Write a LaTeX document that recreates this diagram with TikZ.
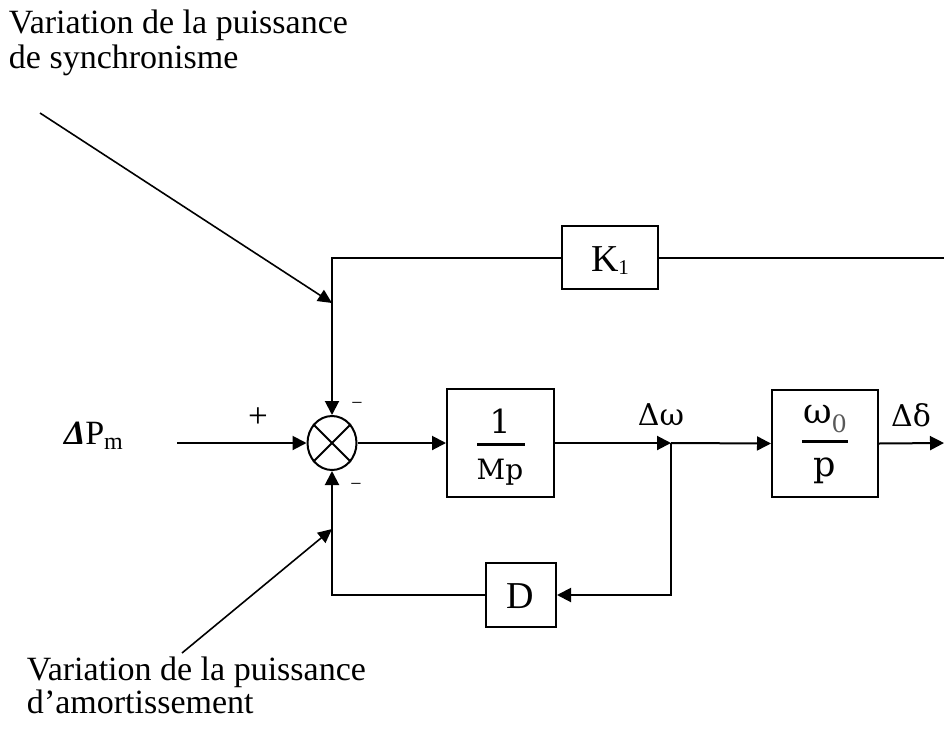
\documentclass[tikz,border=0pt]{standalone}
\usepackage{fontspec}
\setmainfont{Liberation Serif}
\newfontfamily\mathfnt{DejaVu Serif}
\usetikzlibrary{arrows.meta,shapes.geometric}
\begin{document}
\begin{tikzpicture}[x=1pt,y=-1pt,line width=2pt,
  arr/.style={-{Triangle[length=14pt,width=14pt]}},
  thinarr/.style={line width=1.6pt,-{Triangle[length=14pt,width=13pt]}},
  blk/.style={draw,rectangle,inner sep=0pt},
  ann/.style={font=\fontsize{34}{36}\selectfont,anchor=base west,inner sep=0pt},
  lab/.style={font=\fontsize{38}{40}\selectfont,inner sep=0pt,anchor=base},
  mth/.style={font=\mathfnt\fontsize{30}{30}\selectfont,inner sep=0pt,anchor=base},
  sgn/.style={inner sep=0pt}
]
\useasboundingbox (0,0) rectangle (944,728);

% annotations
\node[ann] (t1) at (8,33) {Variation de la puissance};
\node[ann] (t2) at (8,68) {de synchronisme};
\node[ann] (b1) at (26,680) {Variation de la puissance};
\node[ann] (b2) at (26,713) {d’amortissement};

% input label
\node[anchor=base west,inner sep=0pt,font=\fontsize{34}{36}\selectfont] (dpm) at (63,444)
  {{\bfseries\itshape Δ}P\raisebox{-5pt}{\fontsize{24}{24}\selectfont m}};

% summing junction
\node[ellipse,draw,minimum width=49pt,minimum height=54pt,inner sep=0pt] (s) at (332,443) {};
\draw (s.135) -- (s.-45);
\draw (s.45) -- (s.-135);
\node[sgn,font=\fontsize{35}{35}\selectfont] (plus) at (258,418) {+};
\node[sgn,font=\fontsize{20}{20}\selectfont] (m1) at (357,406) {−};
\node[sgn,font=\fontsize{20}{20}\selectfont] (m2) at (356,487) {−};

% 1/Mp block
\node[blk,minimum width=107pt,minimum height=108pt] (mp) at (500.5,443) {};
\node[mth,font=\mathfnt\fontsize{33}{33}\selectfont] (one) at (500,433) {1};
\draw[line width=3pt] (477,444) -- (525,444);
\node[mth,font=\mathfnt\fontsize{28}{28}\selectfont] (mpd) at (500,479) {Mp};

% omega0/p block
\node[blk,minimum width=106pt,minimum height=107pt] (wp) at (825,443.5) {};
\node[mth,font=\mathfnt\fontsize{35}{35}\selectfont] (w0) at (825,423)
  {ω\raisebox{-9pt}{\textcolor{black!65}{\fontsize{24}{24}\selectfont 0}}};
\draw[line width=3pt] (802,441) -- (848,441);
\node[mth,font=\mathfnt\fontsize{35}{35}\selectfont] (pd) at (825,476) {p};

% K1 and D blocks
\node[blk,minimum width=96pt,minimum height=63pt] (k) at (610,257.5) {};
\node[lab] (kt) at (610,271) {K\raisebox{-3pt}{\fontsize{21}{21}\selectfont 1}};
\node[blk,minimum width=70pt,minimum height=64pt] (d) at (521,595) {};
\node[lab] (dt) at (520,608) {D};

% signal labels
\node[mth] (dw) at (661,425) {Δω};
\node[mth] (dd) at (911,426) {Δδ};

% connectors
\coordinate (pin) at (177,443);
\coordinate (br) at (671,443);
\coordinate (out) at (944,443);
\coordinate (kr) at (944,257.5);
\draw[arr] (pin) -- (s.west);
\draw[arr] (s.east) -- (mp.west);
\draw[arr] (mp.east) -- (br);
\draw[arr] (br) -- (wp.west);
\draw[arr] (wp.east) -- (out);
\draw (kr) -- (k.east);
\draw[arr] (k.west) -| (s.north);
\draw[arr] (br) |- (d.east);
\draw[arr] (d.west) -| (s.south);

% annotation arrows
\coordinate (a1s) at (40,113);
\coordinate (a1e) at (332,303);
\coordinate (a2s) at (182,653);
\coordinate (a2e) at (332,529);
\draw[thinarr] (a1s) -- (a1e);
\draw[thinarr] (a2s) -- (a2e);
\end{tikzpicture}
\end{document}
